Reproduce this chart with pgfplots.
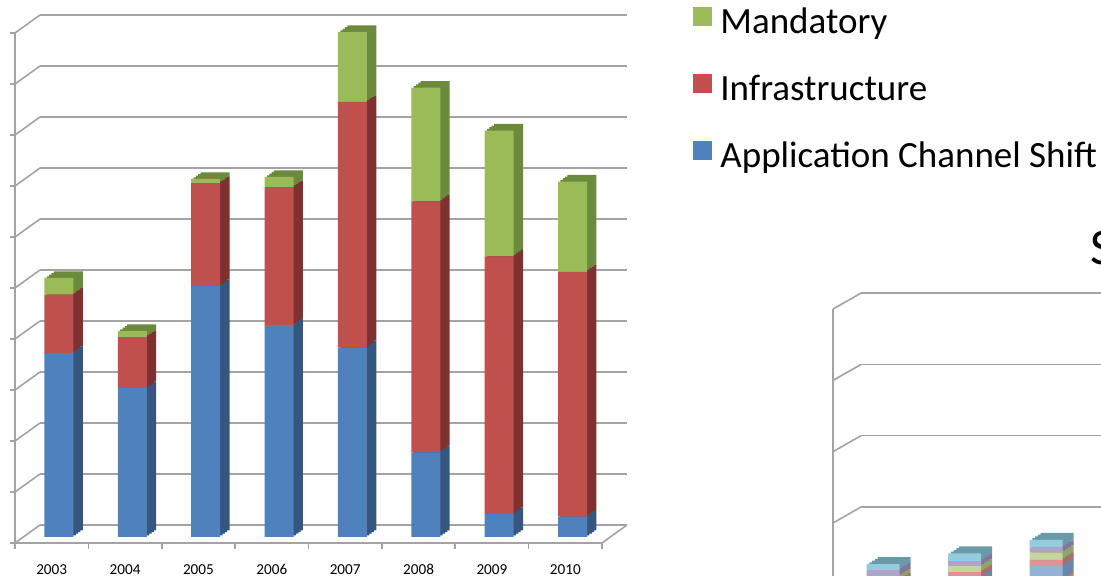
\documentclass[border=0pt]{standalone}
\usepackage{pgfplots}
\pgfplotsset{compat=1.18}
\usepackage{pgfplotstable}
\usepackage{fontspec}
\setmainfont{Carlito}

\definecolor{cBlue}{HTML}{4F81BD}
\definecolor{cRed}{HTML}{C0504D}
\definecolor{cGreen}{HTML}{9BBB59}
\definecolor{sBlue}{HTML}{35567F}
\definecolor{sRed}{HTML}{7E312F}
\definecolor{sGreen}{HTML}{6C8A3C}
\definecolor{gridc}{HTML}{A3A3A3}
% second chart (light theme colours)
\definecolor{pOrange}{HTML}{F5B57E}
\definecolor{pBlue}{HTML}{95B3D7}
\definecolor{pRed}{HTML}{D99694}
\definecolor{pGreen}{HTML}{C3D69B}
\definecolor{pPurple}{HTML}{B3A2C7}
\definecolor{pAqua}{HTML}{93CDDD}
\definecolor{qOrange}{HTML}{C7803F}
\definecolor{qBlue}{HTML}{6B86A8}
\definecolor{qRed}{HTML}{A86E6C}
\definecolor{qGreen}{HTML}{90A56C}
\definecolor{qPurple}{HTML}{847599}
\definecolor{qAqua}{HTML}{6A9AA8}

\pgfplotstableread{
x app infra mand
0 3.61 1.14 0.33
1 2.92 1.00 0.12
2 4.92 2.02 0.08
3 4.16 2.70 0.20
4 3.72 4.81 1.37
5 1.66 4.92 2.23
6 0.45 5.05 2.47
7 0.40 4.80 1.77
}\dataA

\pgfplotstableread{
x s1 s2 s3 s4 s5 s6
0 0.042 0.056 0.042 0.056 0.084 0.084
1 0.070 0.110 0.070 0.084 0.070 0.110
2 0.140 0.200 0.084 0.100 0.070 0.110
}\dataB

\pgfplotsset{
  c1/.style={scale only axis, width=293.5pt, height=255pt,
    xmin=-0.5, xmax=7.5, ymin=0, ymax=10, anchor=south west, clip=false},
  c1bars/.style={c1, hide axis, ybar stacked, bar width=14.5pt},
  c2/.style={scale only axis, width=163pt, height=142.6pt,
    xmin=-0.5, xmax=3.5, ymin=0, ymax=4, anchor=south west, clip=false},
  c2bars/.style={c2, hide axis, ybar stacked, bar width=16.5pt},
  sq legend/.style={legend image code/.code={\fill[##1] (0pt,-0.5pt) rectangle (9.5pt,9pt);}},
}

\begin{document}
\begin{tikzpicture}
\path[use as bounding box] (0,0) rectangle (550.5pt,288pt);
\clip (0,0) rectangle (550.5pt,288pt);

% ---------------- chart 1: back wall
\begin{axis}[c1, at={(20pt,25.5pt)}, axis line style={draw=none},
  xtick=\empty, ytick={0,...,10}, yticklabels={}, major tick length=0pt,
  ymajorgrids, grid style={gridc, line width=0.8pt}]
\end{axis}
% front axis
\begin{axis}[c1, at={(7.5pt,16.5pt)},
  axis x line*=bottom, axis y line*=left,
  axis line style={gridc, line width=0.8pt, -},
  every outer x axis line/.append style={-},
  every outer y axis line/.append style={-},
  ytick={0,...,10}, yticklabels={},
  xtick={0,...,7}, xticklabels={2003,2004,2005,2006,2007,2008,2009,2010},
  minor xtick={-0.5,0.5,...,7.5},
  tick align=outside, major tick length=2.5pt, minor tick length=3pt,
  major x tick style={draw=none},
  minor x tick style={gridc, line width=0.8pt},
  major y tick style={gridc, line width=0.8pt},
  xticklabel style={anchor=base, yshift=-13.5pt, font=\fontsize{7.6}{9}\selectfont}]
\end{axis}
\foreach \k in {0,...,10}
  \draw[gridc, line width=0.8pt] (7.5pt,{16.5pt+25.5pt*\k}) -- (20pt,{25.5pt+25.5pt*\k});
\draw[gridc, line width=0.8pt] (301pt,16.5pt) -- (313.5pt,25.5pt);

% depth faces of the bars
\foreach \f in {1,0.75,0.5,0.25}{
\begin{axis}[c1bars, at={({11.15pt+4.65pt*\f},{19.5pt+3.3pt*\f})}]
\addplot[fill=sBlue, draw=none] table[x=x, y=app] {\dataA};
\addplot[fill=sRed, draw=none] table[x=x, y=infra] {\dataA};
\addplot[fill=sGreen, draw=none] table[x=x, y=mand] {\dataA};
\end{axis}
}
% front faces of the bars
\begin{axis}[c1bars, at={(11.15pt,19.5pt)},
  legend style={at={(axis description cs:1.1426,1.04)}, anchor=north west,
    draw=none, fill=none, inner sep=0pt, row sep=16pt,
    font=\fontsize{18.5}{21}\selectfont,
    nodes={inner sep=0pt, text height=13pt, text depth=4pt},
    /tikz/every odd column/.append style={column sep=4pt}},
  legend cell align=left, reverse legend]
\addplot[fill=cBlue, draw=none, sq legend] table[x=x, y=app] {\dataA};
\addlegendentry{Application Channel Shift}
\addplot[fill=cRed, draw=none, sq legend] table[x=x, y=infra] {\dataA};
\addlegendentry{Infrastructure}
\addplot[fill=cGreen, draw=none, sq legend] table[x=x, y=mand] {\dataA};
\addlegendentry{Mandatory}
\end{axis}

% ---------------- chart 2 (partly visible)
\node[anchor=base west, inner sep=0pt, font=\fontsize{25.5}{30}\selectfont] at (545pt,155.5pt) {S};
\begin{axis}[scale only axis, width=200pt, height=142.6pt, xmin=0, xmax=1,
  ymin=0, ymax=4, anchor=south west, at={(430.5pt,-1.15pt)},
  axis line style={draw=none}, xtick=\empty, ytick={0,...,4}, yticklabels={},
  major tick length=0pt, ymajorgrids, grid style={gridc, line width=0.8pt}]
\end{axis}
\begin{axis}[c2, at={(416.5pt,-9.15pt)}, axis x line=none, axis y line*=left,
  axis line style={gridc, line width=0.8pt, -}, ytick=\empty, xtick=\empty]
\end{axis}
\foreach \k in {0,...,4}
  \draw[gridc, line width=0.8pt] (416.5pt,{-9.15pt+35.65pt*\k}) -- (430.5pt,{-1.15pt+35.65pt*\k});
\foreach \f in {1,0.75,0.5,0.25}{
\begin{axis}[c2bars, at={({421.125pt+5.5pt*\f},{-7pt+3.5pt*\f})}]
\addplot[fill=qOrange, draw=none] table[x=x, y=s1] {\dataB};
\addplot[fill=qBlue, draw=none] table[x=x, y=s2] {\dataB};
\addplot[fill=qRed, draw=none] table[x=x, y=s3] {\dataB};
\addplot[fill=qGreen, draw=none] table[x=x, y=s4] {\dataB};
\addplot[fill=qPurple, draw=none] table[x=x, y=s5] {\dataB};
\addplot[fill=qAqua, draw=none] table[x=x, y=s6] {\dataB};
\end{axis}
}
\begin{axis}[c2bars, at={(421.125pt,-7pt)}]
\addplot[fill=pOrange, draw=none] table[x=x, y=s1] {\dataB};
\addplot[fill=pBlue, draw=none] table[x=x, y=s2] {\dataB};
\addplot[fill=pRed, draw=none] table[x=x, y=s3] {\dataB};
\addplot[fill=pGreen, draw=none] table[x=x, y=s4] {\dataB};
\addplot[fill=pPurple, draw=none] table[x=x, y=s5] {\dataB};
\addplot[fill=pAqua, draw=none] table[x=x, y=s6] {\dataB};
\end{axis}
\end{tikzpicture}
\end{document}
